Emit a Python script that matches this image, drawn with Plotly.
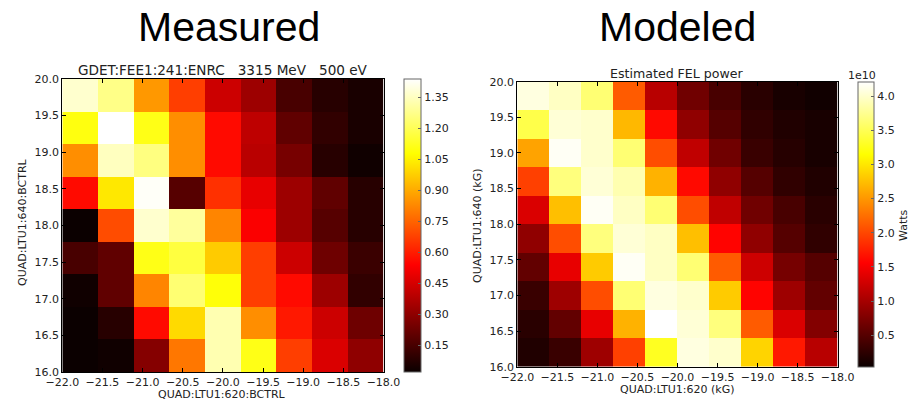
import numpy as np
import plotly.graph_objects as go

# ---------------- data ----------------
# Measured: 9x9 scan, rows listed from top (y=20) to bottom (y=16)
meas_x_edges = np.linspace(-22.0, -18.0, 10)
meas_y_edges = np.linspace(16.0, 20.0, 10)
meas_rows_top_to_bottom = [
    [1.37, 1.27, 0.86, 0.67, 0.43, 0.33, 0.15, 0.08, 0.05],
    [1.10, 1.44, 1.11, 0.84, 0.56, 0.40, 0.20, 0.10, 0.05],
    [0.84, 1.35, 1.26, 0.84, 0.56, 0.39, 0.25, 0.08, 0.03],
    [0.56, 1.03, 1.43, 0.18, 0.64, 0.49, 0.33, 0.20, 0.08],
    [0.02, 0.70, 1.37, 1.30, 0.82, 0.53, 0.33, 0.18, 0.08],
    [0.15, 0.20, 1.11, 1.17, 0.97, 0.67, 0.43, 0.23, 0.12],
    [0.03, 0.20, 0.82, 1.24, 1.09, 0.67, 0.56, 0.33, 0.10],
    [0.02, 0.08, 0.56, 1.00, 1.33, 0.84, 0.59, 0.43, 0.23],
    [0.02, 0.03, 0.28, 0.79, 1.33, 1.11, 0.67, 0.46, 0.30],
]
meas_zmin, meas_zmax = 0.02, 1.44
meas_cbar_ticks = [0.15, 0.30, 0.45, 0.60, 0.75, 0.90, 1.05, 1.20, 1.35]

# Modeled: 10x10 grid, values in units of 1e10 W, rows from top to bottom
model_x_edges = np.linspace(-22.0, -18.0, 11)
model_y_edges = np.linspace(16.0, 20.0, 11)
model_rows_top_to_bottom = [
    [4.08, 3.96, 3.63, 2.13, 1.12, 0.67, 0.42, 0.23, 0.12, 0.08],
    [3.46, 4.04, 4.00, 2.71, 1.62, 0.87, 0.50, 0.27, 0.17, 0.12],
    [2.58, 4.17, 4.00, 3.63, 2.04, 1.17, 0.67, 0.33, 0.21, 0.12],
    [1.96, 3.67, 4.04, 3.88, 2.67, 1.62, 0.87, 0.50, 0.27, 0.17],
    [1.33, 2.75, 4.17, 3.96, 3.63, 2.04, 1.17, 0.67, 0.42, 0.23],
    [0.87, 2.04, 3.67, 4.04, 3.96, 2.75, 1.58, 0.87, 0.50, 0.27],
    [0.58, 1.42, 2.83, 4.17, 3.96, 3.63, 2.13, 1.25, 0.71, 0.50],
    [0.33, 0.96, 2.04, 3.63, 4.08, 4.00, 2.83, 1.58, 0.96, 0.58],
    [0.23, 0.58, 1.42, 2.67, 4.21, 4.04, 3.67, 2.13, 1.33, 0.79],
    [0.17, 0.33, 0.96, 1.96, 3.29, 4.08, 4.00, 2.88, 1.71, 1.12],
]
model_zmin, model_zmax = 0.04, 4.21
model_cbar_ticks = [0.5, 1.0, 1.5, 2.0, 2.5, 3.0, 3.5, 4.0]

axis_ticks = [-22.0, -21.5, -21.0, -20.5, -20.0, -19.5, -19.0, -18.5, -18.0]
y_ticks = [16.0, 16.5, 17.0, 17.5, 18.0, 18.5, 19.0, 19.5, 20.0]

# matplotlib "hot" colormap
hot = [
    [0.0, "rgb(11,0,0)"],
    [0.365079, "rgb(255,0,0)"],
    [0.746032, "rgb(255,255,0)"],
    [1.0, "rgb(255,255,255)"],
]

W, H = 915, 401
def px(x):
    return x / W
def py(y):
    return 1 - y / H

FONT = "DejaVu Sans"
TXT = "#222222"

fig = go.Figure()

fig.add_trace(go.Heatmap(
    x=meas_x_edges, y=meas_y_edges, z=meas_rows_top_to_bottom[::-1],
    colorscale=hot, zmin=meas_zmin, zmax=meas_zmax,
    xaxis="x", yaxis="y",
    colorbar=dict(
        x=px(403.5), xanchor="left", y=py(372), yanchor="bottom",
        len=(372 - 79) / H, lenmode="fraction",
        thickness=17, thicknessmode="pixels", xpad=0, ypad=0,
        outlinecolor="#666666", outlinewidth=1,
        ticks="inside", ticklen=3, tickcolor="#666666",
        tickvals=meas_cbar_ticks, tickformat=".2f",
        tickfont=dict(family=FONT, size=11, color=TXT),
    ),
))

fig.add_trace(go.Heatmap(
    x=model_x_edges, y=model_y_edges, z=model_rows_top_to_bottom[::-1],
    colorscale=hot, zmin=model_zmin, zmax=model_zmax,
    xaxis="x2", yaxis="y2",
    colorbar=dict(
        x=px(858), xanchor="left", y=py(366.7), yanchor="bottom",
        len=(366.7 - 81.7) / H, lenmode="fraction",
        thickness=16, thicknessmode="pixels", xpad=0, ypad=0,
        outlinecolor="#666666", outlinewidth=1,
        ticks="inside", ticklen=3, tickcolor="#666666",
        tickvals=model_cbar_ticks, tickformat=".1f",
        tickfont=dict(family=FONT, size=11, color=TXT),
    ),
))

def xax(domain, anchor):
    return dict(
        domain=domain, anchor=anchor, range=[-22, -18], automargin=False,
        tickvals=axis_ticks, tickformat=".1f",
        ticks="inside", ticklen=4, tickcolor="black",
        showline=True, linecolor="black", linewidth=1, mirror="ticks",
        showgrid=False, zeroline=False,
        tickfont=dict(family=FONT, size=11, color=TXT),
    )

def yax(domain, anchor):
    return dict(
        domain=domain, anchor=anchor, range=[16, 20], automargin=False,
        tickvals=y_ticks, tickformat=".1f",
        ticks="inside", ticklen=4, tickcolor="black",
        showline=True, linecolor="black", linewidth=1, mirror="ticks",
        showgrid=False, zeroline=False,
        tickfont=dict(family=FONT, size=11, color=TXT),
    )

ann = []
def text(s, x, y, size, angle=0, family=FONT, color=TXT):
    ann.append(dict(text=s, x=px(x), y=py(y), xref="paper", yref="paper",
                    xanchor="center", yanchor="middle", showarrow=False,
                    textangle=angle, font=dict(family=family, size=size, color=color)))

sp = "\u00a0\u00a0\u00a0"
text("Measured", 229, 27, 41, family="Liberation Sans", color="black")
text("Modeled", 677, 27, 41, family="Liberation Sans", color="black")
text("GDET:FEE1:241:ENRC" + sp + "3315 MeV" + sp + "500 eV", 222.5, 70, 13.6)
text("Estimated FEL power", 677, 73, 12.6)
text("1e10", 862, 75.5, 11)
text("Watts", 903, 225, 11, angle=-90)
text("QUAD:LTU1:620:BCTRL", 222, 394, 11)
text("QUAD:LTU1:640:BCTRL", 22, 222, 11, angle=-90)
text("QUAD:LTU1:620 (kG)", 677, 389, 11)
text("QUAD:LTU1:640 (kG)", 477, 226, 11, angle=-90)

fig.update_layout(
    width=W, height=H,
    margin=dict(l=0, r=0, t=0, b=0, autoexpand=False),
    paper_bgcolor="white", plot_bgcolor="white",
    xaxis=xax([px(62.3), px(383.5)], "y"),
    yaxis=yax([py(372), py(79)], "x"),
    xaxis2=xax([px(517.3), px(837.7)], "y2"),
    yaxis2=yax([py(366.7), py(81.7)], "x2"),
    annotations=ann,
    showlegend=False,
)

fig.write_html("out.html")
